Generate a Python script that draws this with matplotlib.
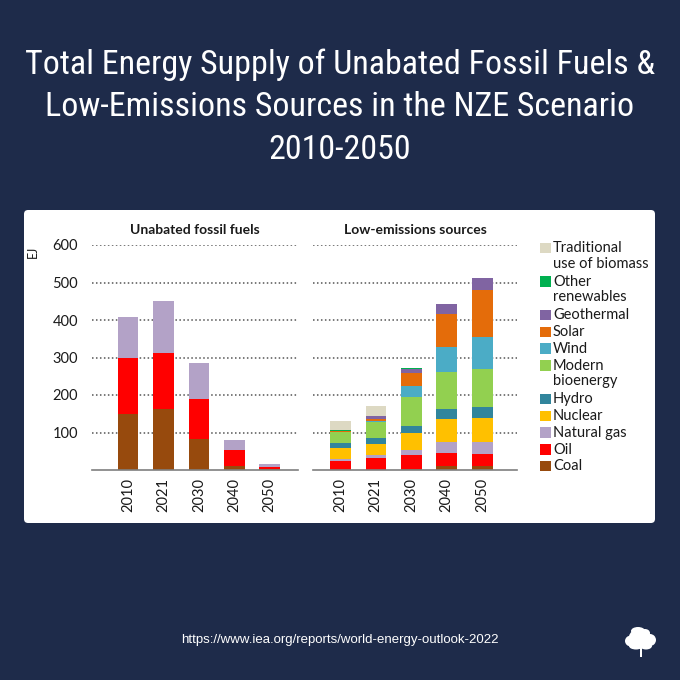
import matplotlib
matplotlib.use("Agg")
import matplotlib.pyplot as plt
from matplotlib.patches import FancyBboxPatch, Rectangle, Ellipse
from matplotlib import font_manager
import numpy as np

# ---- data (EJ) ----
years = ["2010", "2021", "2030", "2040", "2050"]

fossil_names = ["Coal", "Oil", "Natural gas"]
fossil_coal = [150, 162, 83, 12, 2]
fossil_oil = [148, 151, 107, 41, 7]
fossil_gas = [110, 138, 96, 26, 7]

low_names = ["Coal", "Oil", "Natural gas", "Nuclear", "Hydro", "Modern\nbioenergy",
             "Wind", "Solar", "Geothermal", "Other\nrenewables", "Traditional\nuse of biomass"]
low_coal = [1, 1, 3, 12, 12]
low_oil = [23, 30, 36, 34, 31]
low_gas = [6, 8, 15, 29, 32]
low_nuclear = [30, 30, 45, 60, 65]
low_hydro = [12, 16, 19, 27, 29]
low_bio = [29, 43, 78, 100, 101]
low_wind = [1, 4, 27, 66, 84]
low_solar = [1, 5, 35, 88, 125]
low_geo = [2, 7, 12, 26, 33]
low_other = [0.5, 1, 1, 1, 1]
low_trad = [26, 25, 0, 0, 0]

colors = {
    "Coal": "#974a0d",
    "Oil": "#ff0000",
    "Natural gas": "#b3a2c7",
    "Nuclear": "#ffc000",
    "Hydro": "#31859c",
    "Modern\nbioenergy": "#92d050",
    "Wind": "#4bacc6",
    "Solar": "#e46c0a",
    "Geothermal": "#8064a2",
    "Other\nrenewables": "#00b050",
    "Traditional\nuse of biomass": "#ddd9c3",
}

bg = "#1e2b4a"
font = "Lato"

# narrow face for the headline, if one is around
installed = {f.name for f in font_manager.fontManager.ttflist}
title_font = "DejaVu Sans"
for cand in ["Liberation Sans Narrow", "DejaVu Sans Condensed", "Roboto Condensed",
             "Open Sans Condensed"]:
    if cand in installed:
        title_font = cand
        break

fig = plt.figure(figsize=(6.8, 6.8), dpi=100)
fig.patch.set_facecolor(bg)

W, H = 680.0, 680.0
def fx(px): return px / W
def fy(py): return 1 - py / H

# title
fig.text(0.5, fy(107), "Total Energy Supply of Unabated Fossil Fuels &\n"
         "Low-Emissions Sources in the NZE Scenario\n2010-2050",
         ha="center", va="center", color="white", fontsize=24.5,
         family=title_font, fontstretch="condensed", linespacing=1.42)

# white panel
panel = FancyBboxPatch((fx(24), fy(523)), fx(631), 313 / H,
                       boxstyle="round,pad=0,rounding_size=0.006",
                       transform=fig.transFigure, facecolor="white",
                       edgecolor="none", zorder=-5)
fig.patches.append(panel)


def style_axis(ax):
    ax.set_facecolor("none")
    ax.set_ylim(0, 600)
    for s in ax.spines.values():
        s.set_visible(False)
    ax.set_yticks([100, 200, 300, 400, 500, 600])
    for v in [100, 200, 300, 400, 500, 600]:
        ax.axhline(v, color="#555555", linestyle=(0, (1, 1.6)), linewidth=1.1, zorder=1)
    ax.axhline(0, color="#7f7f7f", linewidth=1.2, zorder=3, clip_on=False)
    ax.tick_params(length=0)
    ax.set_xticks(range(len(years)))
    ax.set_xticklabels(years, rotation=90, fontsize=10.5, family=font, color="#1a1a1a")
    ax.tick_params(axis="x", pad=6)


def stack(ax, series, names):
    x = np.arange(len(years))
    bottom = np.zeros(len(years))
    for vals, name in zip(series, names):
        vals = np.array(vals, dtype=float)
        ax.bar(x, vals, 0.58, bottom=bottom, color=colors[name], zorder=2)
        bottom += vals


# left axis
ax1 = fig.add_axes([fx(92), fy(470), fx(298 - 92), 225 / H])
style_axis(ax1)
stack(ax1, [fossil_coal, fossil_oil, fossil_gas], fossil_names)
ax1.set_xlim(-1.02, 4.8)
ax1.set_yticklabels(["100", "200", "300", "400", "500", "600"], fontsize=10.5,
                    family=font, color="#1a1a1a")
ax1.tick_params(axis="y", pad=10)
ax1.set_title("Unabated fossil fuels", fontsize=10, fontweight="bold",
              family=font, color="#1a1a1a", pad=8)
fig.text(fx(33), fy(252), "EJ", rotation=90, ha="center", va="center",
         fontsize=9, family=font, color="#1a1a1a")

# right axis
ax2 = fig.add_axes([fx(313), fy(470), fx(517 - 313), 225 / H])
style_axis(ax2)
stack(ax2, [low_coal, low_oil, low_gas, low_nuclear, low_hydro, low_bio,
            low_wind, low_solar, low_geo, low_other, low_trad], low_names)
ax2.set_xlim(-0.77, 4.98)
ax2.set_yticklabels([])
ax2.set_title("Low-emissions sources", fontsize=10, fontweight="bold",
              family=font, color="#1a1a1a", pad=8)

# legend drawn by hand so the square sits on the first text line
y = 248
pitch = 16.8
for name in reversed(low_names):
    fig.patches.append(Rectangle((fx(540), fy(y + 5)), fx(10.5), 10.5 / H,
                                 transform=fig.transFigure,
                                 facecolor=colors[name], edgecolor="none"))
    fig.text(fx(553), fy(y - 7), name, ha="left", va="top", fontsize=10.5,
             family=font, color="#1a1a1a", linespacing=1.15)
    y += pitch * (name.count("\n") + 1)

# footer
fig.text(0.5, fy(640), "https://www.iea.org/reports/world-energy-outlook-2022",
         ha="center", va="center", color="white", fontsize=9.5,
         family="Liberation Sans")

# small tree mark
for cx, cy, w, h in [(640, 637, 22, 16), (631, 641, 12, 11), (650, 640, 12, 12),
                     (638, 631, 14, 8), (645, 633, 10, 8), (636, 646, 14, 7),
                     (646, 646, 12, 7)]:
    fig.patches.append(Ellipse((fx(cx), fy(cy)), fx(w), h / H,
                               transform=fig.transFigure, facecolor="white",
                               edgecolor="none"))
fig.patches.append(Rectangle((fx(639.5), fy(657)), fx(2), 9 / H,
                             transform=fig.transFigure, facecolor="white",
                             edgecolor="none"))

fig.savefig("out.png", dpi=100, facecolor=bg)
